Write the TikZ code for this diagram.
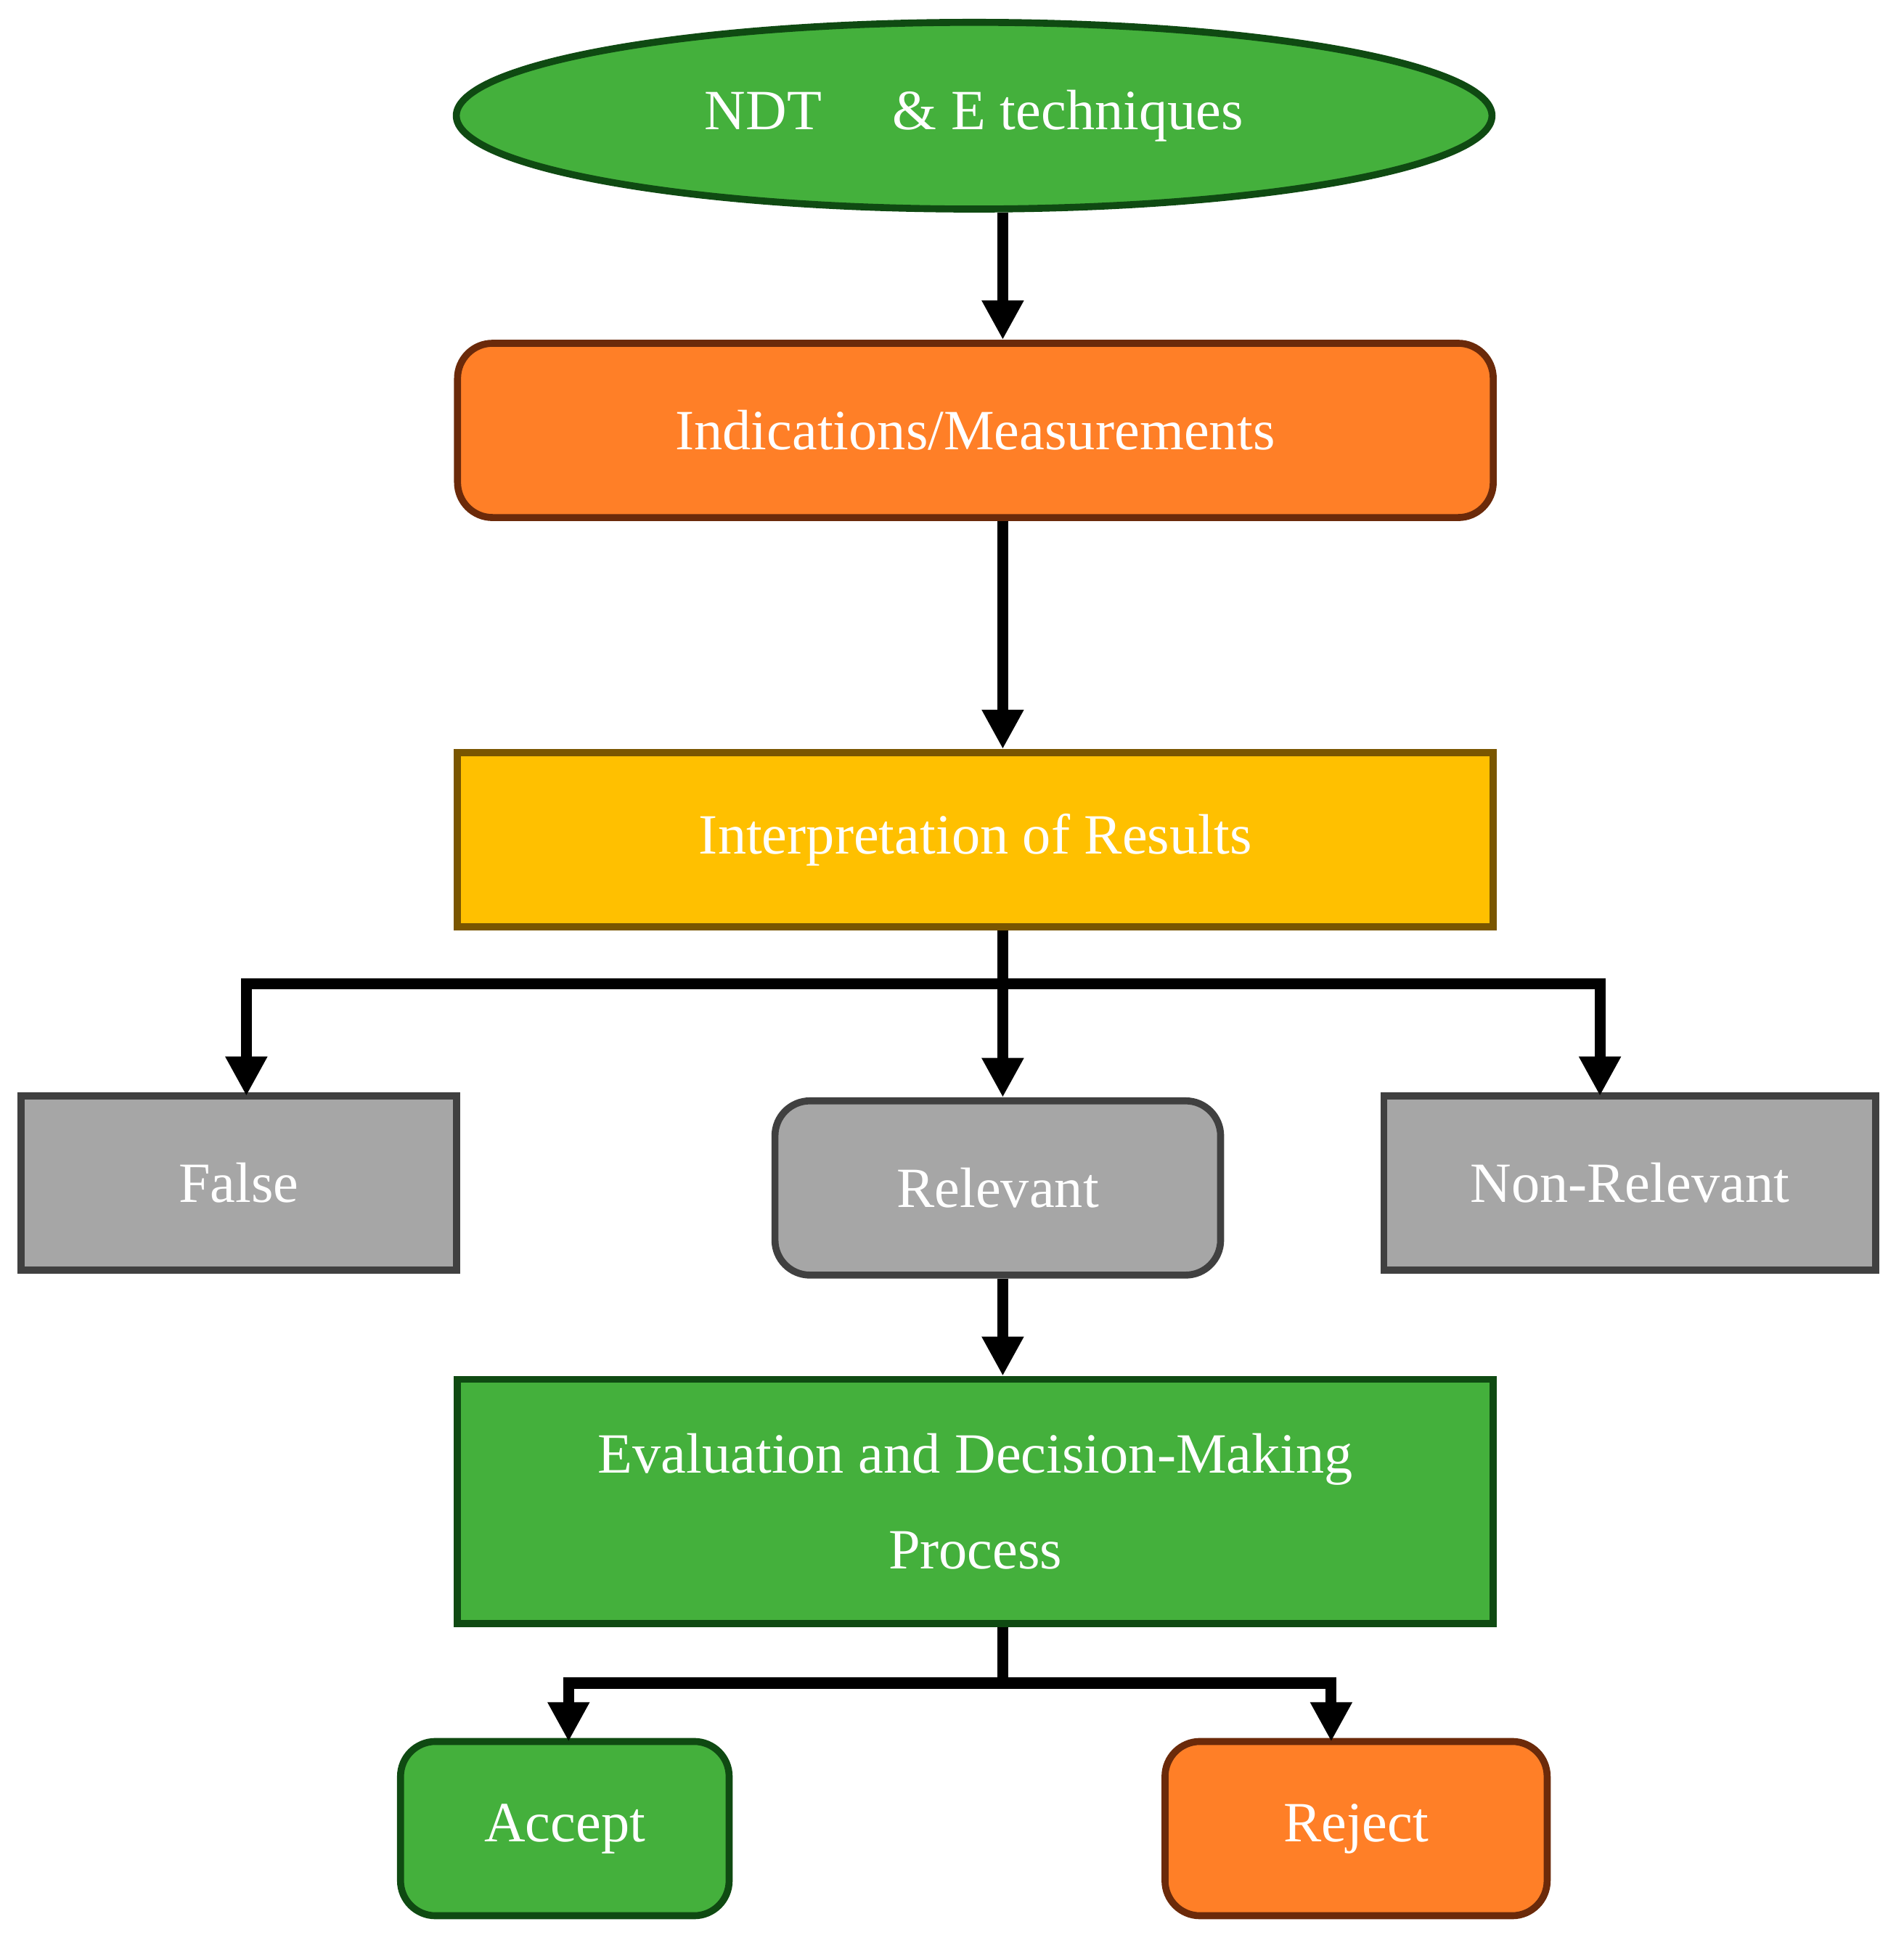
\documentclass[tikz,border=0pt]{standalone}
\usepackage{fontspec}
\setmainfont{Liberation Serif}
\usetikzlibrary{shapes.geometric,positioning,arrows.meta}
\definecolor{cgreen}{HTML}{44B03C}
\definecolor{cgreenb}{HTML}{0F4A12}
\definecolor{corange}{HTML}{FF7F27}
\definecolor{coranb}{HTML}{6B2A0A}
\definecolor{cyellow}{HTML}{FFC000}
\definecolor{cyelb}{HTML}{7A5600}
\definecolor{cgray}{HTML}{A6A6A6}
\definecolor{cgrayb}{HTML}{404040}
\tikzset{
  box/.style = {rectangle, draw, line width=1.6pt, text=white, align=center,
    font=\fontsize{13}{22}\selectfont, inner sep=0pt},
  rbox/.style = {box, rounded corners=8pt},
  arrow/.style = {-{Triangle[length=9pt,width=9pt]}, line width=2.5pt},
  line/.style = {line width=2.5pt}
}
\begin{document}
\begin{tikzpicture}[x=0.01cm,y=-0.01cm]
    \useasboundingbox (0,0) rectangle (1530,1566);
    % Nodes
    \node[box, ellipse, fill=cgreen, draw=cgreenb, minimum width=8.32cm, minimum height=1.5cm] (ndt) at (783,93) {NDT\quad\ \& E techniques};
    \node[rbox, fill=corange, draw=coranb, minimum width=8.32cm, minimum height=1.4cm] (ind) at (784,346) {Indications/Measurements};
    \node[box, fill=cyellow, draw=cyelb, minimum width=8.32cm, minimum height=1.4cm] (interp) at (784,675) {Interpretation of Results};
    \node[box, fill=cgray, draw=cgrayb, minimum width=3.5cm, minimum height=1.4cm] (false) at (192,951) {False};
    \node[rbox, fill=cgray, draw=cgrayb, minimum width=3.58cm, minimum height=1.4cm] (rel) at (802,955) {Relevant};
    \node[box, fill=cgray, draw=cgrayb, minimum width=3.95cm, minimum height=1.4cm] (nonrel) at (1310,951) {Non-Relevant};
    \node[box, fill=cgreen, draw=cgreenb, minimum width=8.32cm, minimum height=1.96cm] (eval) at (784,1207) {Evaluation and Decision-Making\\Process};
    \node[rbox, fill=cgreen, draw=cgreenb, minimum width=2.64cm, minimum height=1.4cm] (acc) at (454,1470) {Accept};
    \node[rbox, fill=corange, draw=coranb, minimum width=3.07cm, minimum height=1.4cm] (rej) at (1090,1470) {Reject};
    % Connectors
    \coordinate (b1) at (806,791);
    \coordinate (b2) at (806,1353);
    \draw[arrow] (ndt.south -| b1) -- (ind.north -| b1);
    \draw[arrow] (ind.south -| b1) -- (interp.north -| b1);
    \draw[line] (interp.south -| b1) -- (b1);
    \draw[arrow] (b1) -| (198,881);
    \draw[arrow] (b1) -- (rel.north -| b1);
    \draw[arrow] (b1) -| (1286,881);
    \draw[arrow] (rel.south -| b1) -- (eval.north -| b1);
    \draw[line] (eval.south -| b1) -- (b2);
    \draw[arrow] (b2) -| (457,1400);
    \draw[arrow] (b2) -| (1070,1400);
\end{tikzpicture}
\end{document}
